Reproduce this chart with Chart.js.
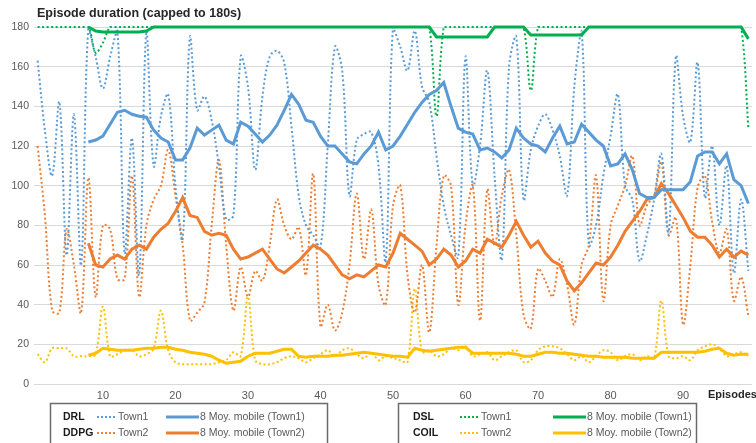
<!DOCTYPE html>
<html>
<head>
<meta charset="utf-8">
<script src="https://cdn.jsdelivr.net/npm/chart.js@4.4.1/dist/chart.umd.min.js"></script>
<style>
body{margin:0;background:#fff;}
#caja{width:756px;height:443px;position:relative;}
</style>
</head>
<body>
<div id="caja"><canvas id="grafico"></canvas></div>
<script>

// ================================
// DATOS
// ================================

const episodios = [1,2,3,4,5,6,7,8,9,10,11,12,13,14,15,16,17,18,19,20,21,22,23,24,25,26,27,28,29,30,31,32,33,34,35,36,37,38,39,40,41,42,43,44,45,46,47,48,49,50,51,52,53,54,55,56,57,58,59,60,61,62,63,64,65,66,67,68,69,70,71,72,73,74,75,76,77,78,79,80,81,82,83,84,85,86,87,88,89,90,91,92,93,94,95,96,97,98,99];

const marcasX = [10,20,30,40,50,60,70,80,90];
const marcasY = [0,20,40,60,80,100,120,140,160,180];

// DRL DDPG
const drlTown1 = [163,128,105,142,65,136,60,180,165,149, 165,178,66,124,55,178,110,135,146,100, 73,175,138,145,133,110,83,85,165,150, 108,145,165,168,162,130,95,80,75,69, 120,170,158,95,123,126,127,110,62,180, 170,158,178,150,142,115,90,75,64,165, 100,120,158,105,63,160,175,93,118,130, 136,128,115,95,150,178,70,80,105,125, 146,100,93,62,75,93,116,76,165,135, 122,162,94,120,80,110,56,93,57];

const drlMoyTown1 = [null,null,null,null,null,null,null,122,123,125, 131,137,138,136,135,134.5,128,124,122,113, 113,119,129,125.5,128,130.5,123,121,132,130, 126,122,125.5,130.5,138,146,141,133,132,125, 120,120,116,112,111,116,120,127,118,120, 125,131,137,142,146,148,152,140,129,127, 126,118,119,117,114,118,129,124,121,120, 117,124,130,121,122,131,127,123,120,110, 111,116,108,96,94,94,98,98,98,98, 102,115,117,117,111,116,103,100,91];

const drlTown2 = [120,85,37,36,78,60,36,104,44,80, 78,53,53,105,44,80,93,100,118,95, 70,32,36,41,80,113,70,37,59,44, 57,52,70,93,80,73,79,55,106,29, 40,27,36,60,96,63,88,50,40,90, 100,55,36,60,26,70,105,100,40,80, 100,32,98,70,95,108,75,35,28,58, 52,44,63,50,30,60,70,105,42,80, 90,100,115,80,90,95,112,75,84,30, 60,99,105,82,66,78,42,54,34];

const drlMoyTown2 = [null,null,null,null,null,null,null,71,60,59, 63,65,63,68,70,68,74,78,81,87, 94,85,84,77,75,76,75,68,63,64, 66,68,63,58,56,59,62,66,70,68, 65,60,55,53,55,54,57,60,59,66, 76,73,70,67,60,63,68,65,59,62, 68,66,73,71,69,75,82,75,69,72, 66,62,60,52,47,51,56,61,60,64, 70,77,82,87,93,94,101,96,90,84, 77,74,74,70,64,68,64,67,65];

// DSL COIL
const dslTown1 = [180,180,180,180,180,180,180,180,167,172, 180,180,180,180,180,180,180,180,180,180, 180,180,180,180,180,180,180,180,180,180, 180,180,180,180,180,180,180,180,180,180, 180,180,180,180,180,180,180,180,180,180, 180,180,180,180,180,135,180,180,180,180, 180,180,180,180,180,180,180,180,148,180, 180,180,180,180,180,180,180,180,180,180, 180,180,180,180,180,180,180,180,180,180, 180,180,180,180,180,180,180,180,129];

const dslMoyTown1 = [null,null,null,null,null,null,null,180,178,177.5, 177.5,177.5,177.5,177.5,177.5,178,180,180,180,180, 180,180,180,180,180,180,180,180,180,180, 180,180,180,180,180,180,180,180,180,180, 180,180,180,180,180,180,180,180,180,180, 180,180,180,180,180,175,175,175,175,175, 175,175,175,180,180,180,180,180,176,176, 176,176,176,176,176,176,180,180,180,180, 180,180,180,180,180,180,180,180,180,180, 180,180,180,180,180,180,180,180,174];

const coilTown2 = [15,11,18,18,18,14,14,14,15,39, 14,15,17,17,14,15,18,37,17,11, 10,10,10,10,10,11,12,16,14,44, 12,10,10,11,13,14,13,11,13,15, 17,14,17,18,15,13,16,12,14,13, 12,11,48,16,17,14,15,18,17,19, 14,15,16,12,14,16,17,11,12,17, 19,19,18,15,12,14,11,14,17,16, 12,14,15,12,14,13,42,14,13,14, 12,17,19,20,18,14,15,16,14];

const coilMoyTown2 = [null,null,null,null,null,null,null,14.5,15.5,18, 17.5,17,17,17,17.5,18,18,18.5,18.5,17.5, 17,16,15.5,15,14,12,10.5,11,11.5,14, 15.5,15.5,15.5,16.5,17.5,17.5,14,13.5,14,14, 14,14.5,14.5,15,15.5,16,15.5,15,14.5,14, 14,13.5,18,17,16.5,17,17.5,18,18.5,18.5, 15.5,15.5,15.5,15.5,15.5,15.5,15,14,14,15, 16,16,15.5,15.5,15,14.5,14,14,13.5,13.5, 13.5,13.5,13,13,13,13,16,16,16,16, 16,16,16.5,17.5,18,15.5,14.5,15,15];

// ================================
// COLORES
// ================================

const azul = "#5B9BD5";
const naranja = "#ED7D31";
const verde = "#00B050";
const amarillo = "#FFC000";

const fuente = "'Liberation Sans', Arial, sans-serif";

function punteada(etiqueta, datos, color){
    return {
        label: etiqueta,
        data: datos,
        borderColor: color,
        borderWidth: 2,
        borderDash: [2,2.5],
        pointRadius: 0,
        tension: 0.35,
        order: 1,
        clip: {left: 6, top: 3, right: 6, bottom: 2}
    };
}

function movil(etiqueta, datos, color){
    return {
        label: etiqueta,
        data: datos,
        borderColor: color,
        borderWidth: 3,
        pointRadius: 0,
        tension: 0,
        order: 0,
        clip: {left: 6, top: 3, right: 6, bottom: 2}
    };
}

// ================================
// TITULO, EJE Y LEYENDAS
// ================================

const textos = {
    id: "textos",
    afterDraw(chart){
        const c = chart.ctx;
        c.save();

        c.fillStyle = "#262626";
        c.textBaseline = "middle";
        c.textAlign = "left";
        c.font = "bold 12.5px " + fuente;
        c.fillText("Episode duration (capped to 180s)", 37, 14);

        c.font = "bold 11px " + fuente;
        c.fillText("Episodes", 708, 395);

        function caja(x, w){
            c.strokeStyle = "#6b6b6b";
            c.lineWidth = 1.5;
            c.strokeRect(x + 0.5, 403.5, w, 50);
        }

        function fila(y, nombre, xNombre, xPunto, xLinea, color, serie){
            c.fillStyle = "#1a1a1a";
            c.font = "bold 10.5px " + fuente;
            c.fillText(nombre, xNombre, y);

            c.strokeStyle = color;
            c.lineWidth = 2;
            c.setLineDash([2,2]);
            c.beginPath();
            c.moveTo(xPunto, y);
            c.lineTo(xPunto + 19, y);
            c.stroke();
            c.setLineDash([]);

            c.fillStyle = "#595959";
            c.font = "10.5px " + fuente;
            c.fillText(serie, xPunto + 21, y);

            c.strokeStyle = color;
            c.lineWidth = 3;
            c.beginPath();
            c.moveTo(xLinea, y);
            c.lineTo(xLinea + 33, y);
            c.stroke();

            c.fillStyle = "#595959";
            c.font = "10.5px " + fuente;
            c.fillText("8 Moy. mobile (" + serie + ")", xLinea + 34, y);
        }

        caja(50, 277);
        fila(417, "DRL", 63, 97, 166, azul, "Town1");
        fila(433, "DDPG", 63, 97, 166, naranja, "Town2");

        caja(398, 298);
        fila(417, "DSL", 413, 460, 553, verde, "Town1");
        fila(433, "COIL", 413, 460, 553, amarillo, "Town2");

        c.restore();
    }
};

// ================================
// GRAFICO
// ================================

const ctx =
document.getElementById("grafico");

const grafico = new Chart(ctx, {

    type: "line",

    data: {
        labels: episodios,
        datasets: [
            movil("8 Moy. mobile (Town1)", dslMoyTown1, verde),
            movil("8 Moy. mobile (Town1)", drlMoyTown1, azul),
            movil("8 Moy. mobile (Town2)", drlMoyTown2, naranja),
            movil("8 Moy. mobile (Town2)", coilMoyTown2, amarillo),
            punteada("Town1", dslTown1, verde),
            punteada("Town1", drlTown1, azul),
            punteada("Town2", drlTown2, naranja),
            punteada("Town2", coilTown2, amarillo)
        ]
    },

    options: {
        responsive: true,
        maintainAspectRatio: false,
        animation: false,
        layout: {
            padding: {top: 27, right: 4, left: 0, bottom: 0}
        },
        plugins: {
            legend: {display: false},
            tooltip: {enabled: false}
        },
        scales: {
            x: {
                type: "category",
                offset: true,
                grid: {display: false, drawTicks: false},
                border: {display: false},
                ticks: {
                    autoSkip: false,
                    maxRotation: 0,
                    padding: 5,
                    color: "#595959",
                    font: {family: fuente, size: 11},
                    callback: function(valor, i){
                        const e = episodios[i];
                        return marcasX.includes(e) ? String(e) : "";
                    }
                },
                afterFit(scale){
                    scale.height = 59;
                }
            },
            y: {
                min: 0,
                max: 180,
                grid: {color: "#d9d9d9", drawTicks: false},
                border: {display: false},
                ticks: {
                    padding: 5,
                    color: "#595959",
                    font: {family: fuente, size: 10.5}
                },
                afterBuildTicks(scale){
                    scale.ticks = marcasY.map(v => ({value: v}));
                },
                afterFit(scale){
                    scale.width = 34;
                }
            }
        }
    },

    plugins: [textos]

});

</script>
</body>
</html>
